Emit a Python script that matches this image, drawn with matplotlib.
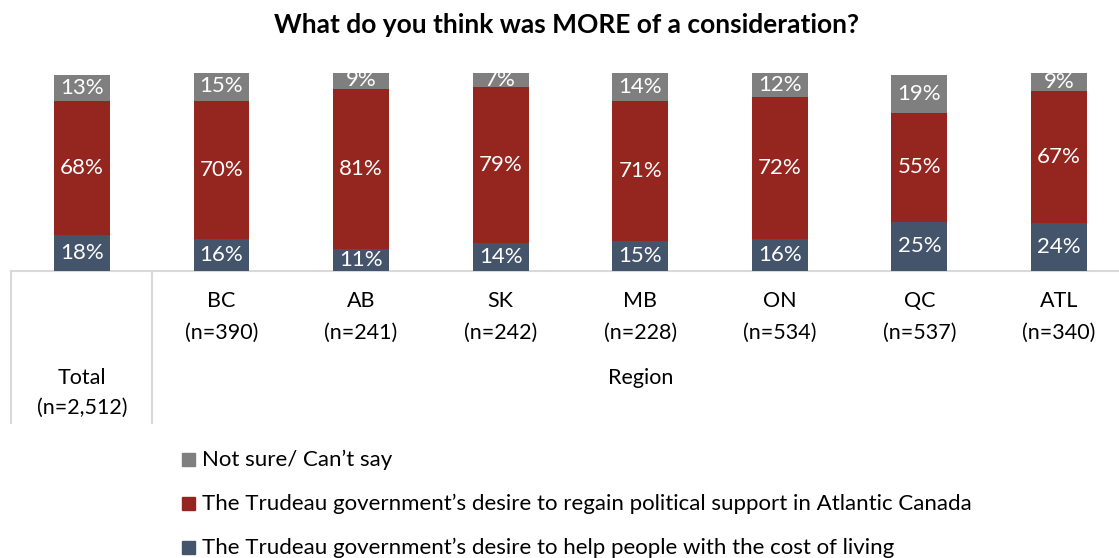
import matplotlib.pyplot as plt
from matplotlib.patches import Rectangle

plt.rcParams['font.family'] = ['Lato', 'DejaVu Sans']

groups = ["Total\n(n=2,512)", "BC\n(n=390)", "AB\n(n=241)", "SK\n(n=242)",
          "MB\n(n=228)", "ON\n(n=534)", "QC\n(n=537)", "ATL\n(n=340)"]
help_cost = [18, 16, 11, 14, 15, 16, 25, 24]
regain_support = [68, 70, 81, 79, 71, 72, 55, 67]
not_sure = [13, 15, 9, 7, 14, 12, 19, 9]

legend_labels = ["Not sure/ Can\u2019t say",
                 "The Trudeau government\u2019s desire to regain political support in Atlantic Canada",
                 "The Trudeau government\u2019s desire to help people with the cost of living"]

c_blue = "#44546A"
c_red = "#95261F"
c_gray = "#7F7F7F"
c_line = "#D9D9D9"

W, H = 1119, 558
fig = plt.figure(figsize=(W / 100, H / 100), dpi=100)
# plot area: zero line at y=271px, 100% at y=73px
ax = fig.add_axes([11 / W, (H - 271) / H, (W - 11) / W, 198 / H])
ax.set_xlim(-0.508, 7.43)
ax.set_ylim(0, 100)
ax.axis("off")

x = range(len(groups))
bw = 0.40
b1 = ax.bar(x, help_cost, bw, color=c_blue, zorder=2)
b2 = ax.bar(x, regain_support, bw, bottom=help_cost, color=c_red, zorder=2)
base = [a + b for a, b in zip(help_cost, regain_support)]
b3 = ax.bar(x, not_sure, bw, bottom=base, color=c_gray, zorder=2)

for bars, vals in [(b1, help_cost), (b2, regain_support), (b3, not_sure)]:
    for rect, v in zip(bars, vals):
        ax.text(rect.get_x() + rect.get_width() / 2, rect.get_y() + rect.get_height() / 2,
                f"{v}%", ha="center", va="center", color="white", fontsize=16, zorder=3)

# multi-level category axis
ax.plot([-0.508, 7.43], [0, 0], color=c_line, lw=1.5, clip_on=False, zorder=1)
ax.plot([-0.508, -0.508], [0, -77], color=c_line, lw=1.5, clip_on=False)
ax.plot([0.5, 0.5], [0, -77], color=c_line, lw=1.5, clip_on=False)

for i, g in enumerate(groups[1:], start=1):
    ax.text(i, -23.3, g, ha="center", va="center", fontsize=15.5, linespacing=1.72)
ax.text(0, -61.5, groups[0], ha="center", va="center", fontsize=15.5, linespacing=1.62)
ax.text(4, -54, "Region", ha="center", va="center", fontsize=15.5)

fig.text(566 / W, 1 - 25 / H, "What do you think was MORE of a consideration?",
         ha="center", va="center", fontsize=19, fontweight="bold")

# legend
for i, (lab, col) in enumerate(zip(legend_labels, [c_gray, c_red, c_blue])):
    yc = 460 + 44 * i
    fig.add_artist(Rectangle((182 / W, 1 - (yc + 6) / H), 13 / W, 13 / H,
                             color=col, transform=fig.transFigure))
    fig.text(202 / W, 1 - yc / H, lab, ha="left", va="center", fontsize=16)

fig.savefig("out.png", dpi=100)
